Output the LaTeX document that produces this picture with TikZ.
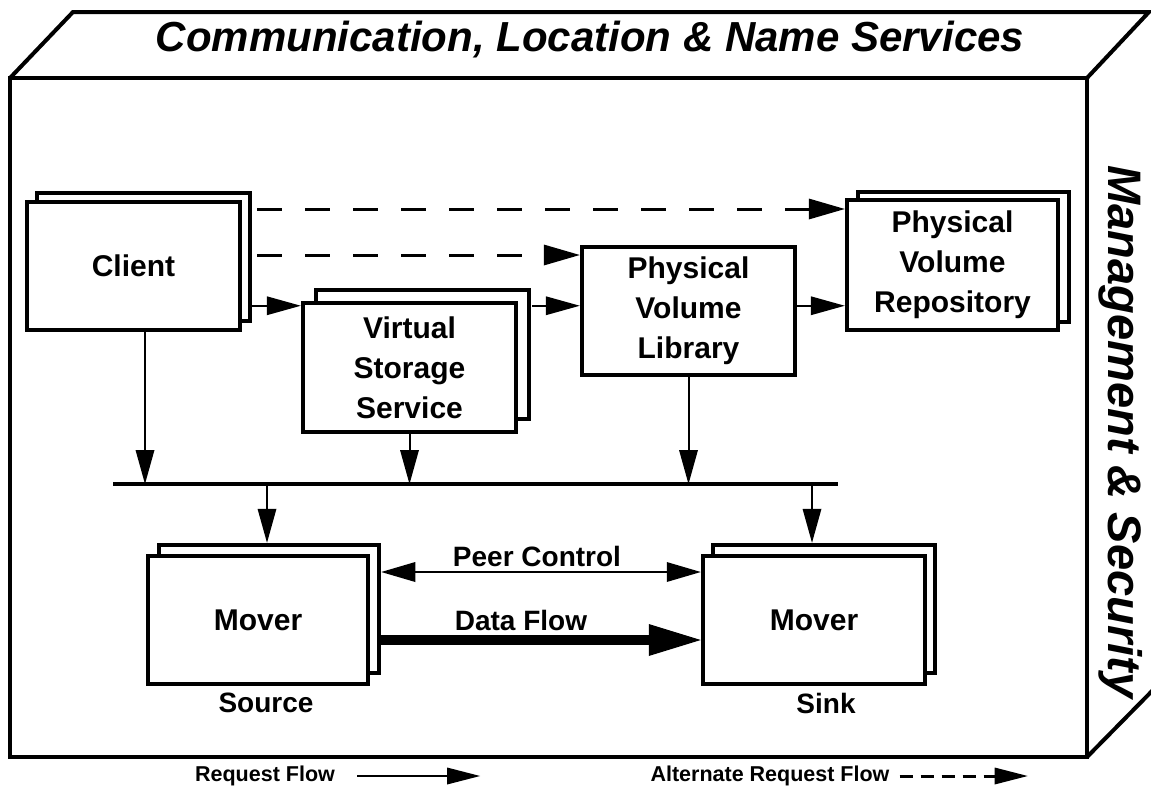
\documentclass[tikz,border=0pt]{standalone}
\usepackage{fontspec}
\setmainfont{Liberation Sans}
\usetikzlibrary{arrows.meta,shadows,calc}
\begin{document}
\begin{tikzpicture}[x=1pt,y=-1pt,
  frame/.style={line width=4pt, line join=miter},
  box/.style={draw, fill=white, line width=4.5pt, inner sep=0pt, align=center,
    font=\bfseries\fontsize{30}{40}\selectfont},
  stack/.style 2 args={copy shadow={shadow xshift=#1pt, shadow yshift=#2pt, draw=black, fill=white, line width=4pt}},
  lbl/.style={font=\bfseries\fontsize{28}{34}\selectfont, inner sep=0pt},
  leg/.style={font=\bfseries\fontsize{21.5}{26}\selectfont, inner sep=0pt},
  req/.style={line width=2pt, -{Triangle[length=34pt,width=19pt,line width=0pt]}},
  alt/.style={line width=3pt, dash pattern=on 25pt off 23pt, -{Triangle[length=36pt,width=21pt,line width=0pt]}},
  peer/.style={line width=2pt, {Triangle[length=34pt,width=20pt,line width=0pt]}-{Triangle[length=34pt,width=20pt,line width=0pt]}},
  data/.style={line width=10pt, -{Triangle[length=52pt,width=32pt,line width=0pt]}},
  bus/.style={line width=3.5pt},
  reqleg/.style={line width=2pt, -{Triangle[length=33pt,width=17pt,line width=0pt]}},
  altleg/.style={line width=3pt, dash pattern=on 13pt off 8pt, -{Triangle[length=33pt,width=17pt,line width=0pt]}}
]
\useasboundingbox (0,0) rectangle (1151,787);
\fill[white] (0,0) rectangle (1151,787);
% outer 3D frame
\draw[frame] (10,78) rectangle (1087,757);
\draw[frame] (10,78) -- (73,12) -- (1149,12) -- (1087,78);
\draw[frame] (1087,757) -- (1153,690);
\node[font=\bfseries\itshape\fontsize{42}{50}\selectfont, inner sep=0pt] (title) at (590,40) {Communication, Location \& Name Services};
\node[rotate=-90, font=\bfseries\itshape\fontsize{47}{56}\selectfont, inner sep=0pt] (mgmt) at (1121,432) {Management \& Security};

% boxes
\node[box, stack={10}{9}, minimum width=213pt, minimum height=128pt] (client) at (133.5,266) {Client};
\node[box, stack={13}{13}, minimum width=213pt, minimum height=129pt] (vss) at (409.5,367.5) {Virtual\\Storage\\Service};
\node[box, minimum width=213pt, minimum height=128pt] (pvl) at (688.5,311) {Physical\\Volume\\Library};
\node[box, stack={11}{8}, minimum width=211pt, minimum height=130pt] (pvr) at (952.5,265) {Physical\\Volume\\Repository};
\node[box, stack={11}{11}, minimum width=220pt, minimum height=128pt] (msrc) at (258,620) {Mover};
\node[box, stack={10}{11}, minimum width=222pt, minimum height=128pt] (msink) at (814,620) {Mover};

% helper coordinates
\coordinate (cb) at ([xshift=10pt]client.east);
\coordinate (a1) at ([xshift=15pt,yshift=57pt]client.east);
\coordinate (a2) at ([xshift=15pt,yshift=11pt]client.east);
\coordinate (r1) at ([yshift=-5pt]vss.north west);
\coordinate (vb) at ([xshift=14pt]vss.east);
\coordinate (busL) at (113,484);
\coordinate (busR) at (838,484);
\coordinate (cdown) at ([xshift=11.5pt]client.south);
\coordinate (sd) at ([xshift=9pt,yshift=11pt]msrc.north);
\coordinate (kd) at ([xshift=-2pt,yshift=11pt]msink.north);
\coordinate (p1) at ([xshift=11pt,yshift=48pt]msrc.east);
\coordinate (d1) at ([xshift=11pt,yshift=-20pt]msrc.east);

% alternate request flow
\draw[alt] (a1) -- (a1 -| pvr.west);
\draw[alt] (a2) -- (a2 -| pvl.west);
% request flow
\draw[req] (r1 -| cb) -- (r1);
\draw[req] (r1 -| vb) -- (r1 -| pvl.west);
\draw[req] (r1 -| pvl.east) -- (r1 -| pvr.west);
% bus
\draw[bus] (busL) -- (busR);
\draw[req] (cdown) -- (cdown |- busL);
\draw[req] (vss.south) -- (vss.south |- busL);
\draw[req] (pvl.south) -- (pvl.south |- busL);
\draw[req] (sd |- busL) -- (sd);
\draw[req] (kd |- busL) -- (kd);
% mover links
\draw[peer] (p1) -- (p1 -| msink.west);
\draw[data] (d1) -- (d1 -| msink.west);
\node[lbl] (lpc) at (537,556) {Peer Control};
\node[lbl] (ldf) at (521,620) {Data Flow};
\node[lbl] (src) at (266,703) {Source};
\node[lbl] (snk) at (826,703) {Sink};

% legend
\node[leg] (lreq) at (265,776) {Request Flow};
\node[leg] (lalt) at (770,776) {Alternate Request Flow};
\draw[reqleg] ([xshift=22pt]lreq.east) -- ++(123,0);
\draw[altleg] ([xshift=10pt]lalt.east) -- ++(128,0);
\end{tikzpicture}
\end{document}
